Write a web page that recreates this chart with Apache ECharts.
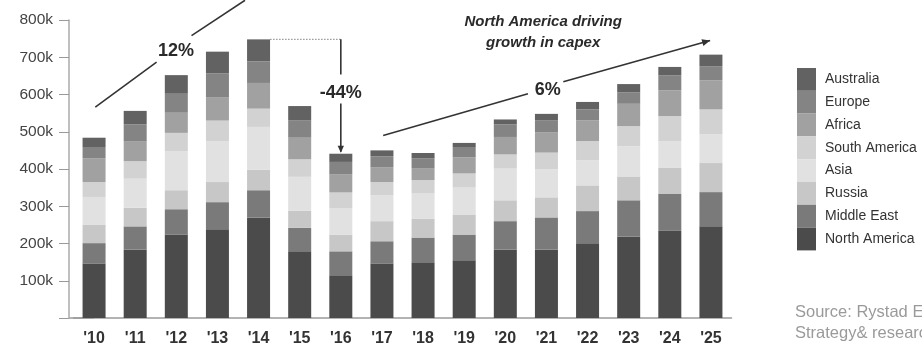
<!DOCTYPE html>
<html>
<head>
<meta charset="utf-8">
<script src="https://cdn.jsdelivr.net/npm/echarts@6/dist/echarts.min.js"></script>
<style>
  html, body { margin: 0; padding: 0; background: #fff; }
  #chart { width: 922px; height: 348px; }
</style>
</head>
<body>
<div id="chart"></div>
<script>
// Upstream capex by region, thousands of USD millions
const years = ["'10", "'11", "'12", "'13", "'14", "'15", "'16", "'17", "'18", "'19", "'20", "'21", "'22", "'23", "'24", "'25"];
const northAmerica = [146, 184, 224, 238, 270, 179, 115, 146, 150, 155, 184, 184, 201, 219, 234, 246];
const middleEast   = [55, 62, 68, 73, 73, 63, 64, 60, 66, 69, 76, 86, 86, 97, 100, 92];
const russia       = [50, 50, 51, 54, 55, 46, 45, 54, 51, 54, 56, 54, 69, 64, 70, 78];
const asia         = [74, 78, 105, 110, 115, 91, 70, 69, 67, 72, 85, 75, 67, 81, 71, 77];
const southAmerica = [40, 47, 49, 55, 49, 47, 43, 36, 36, 38, 38, 45, 52, 54, 67, 67];
const africa       = [64, 54, 54, 63, 69, 58, 48, 40, 31, 43, 47, 55, 56, 60, 69, 78];
const europe       = [30, 45, 51, 64, 58, 46, 34, 29, 28, 28, 34, 31, 29, 31, 40, 38];
const australia    = [25, 36, 50, 58, 59, 39, 22, 16, 14, 11, 13, 18, 20, 22, 23, 31];

const yTicks = [0, 100, 200, 300, 400, 500, 600, 700, 800];

// Growth annotations: [category position, value]
const cagrRise = { text: '12%', from: [0.03, 566], gapStart: [1.52, 687], label: [1.99, 716], gapEnd: [2.37, 758], to: [3.67, 853] };
const cagrRecovery = { text: '6%', from: [7.03, 490], gapStart: [10.55, 602], label: [11.03, 611], gapEnd: [11.41, 634], to: [14.98, 745] };
const dropLabel = '-44%';
const peakIndex = 4;
const troughIndex = 6;

const seriesDefs = [
  ['North America', northAmerica, '#4b4b4b'],
  ['Middle East', middleEast, '#7a7a7a'],
  ['Russia', russia, '#c7c7c7'],
  ['Asia', asia, '#e1e1e1'],
  ['South America', southAmerica, '#d2d2d2'],
  ['Africa', africa, '#a1a1a1'],
  ['Europe', europe, '#848484'],
  ['Australia', australia, '#626262']
];

const FONT = "'Liberation Sans', Arial, sans-serif";
const chart = echarts.init(document.getElementById('chart'), null, { renderer: 'canvas' });

chart.setOption({
  animation: false,
  textStyle: { fontFamily: FONT },
  grid: { left: 73.5, right: 190.5, top: 20, bottom: 30, containLabel: false },
  legend: {
    orient: 'vertical',
    left: 797,
    top: 68,
    padding: 0,
    itemGap: 0,
    itemWidth: 19,
    itemHeight: 22.8,
    icon: 'rect',
    selectedMode: false,
    data: seriesDefs.map(d => d[0]).reverse(),
    textStyle: { fontSize: 14, color: '#333', fontFamily: FONT, padding: [0, 0, 0, 4] }
  },
  xAxis: {
    type: 'category',
    data: years,
    axisLine: { lineStyle: { color: '#9a9a9a', width: 1.5 } },
    axisTick: { show: false },
    axisLabel: { fontSize: 16, fontWeight: 'bold', color: '#333', margin: 13, fontFamily: FONT }
  },
  yAxis: {
    type: 'value',
    min: yTicks[0],
    max: yTicks[yTicks.length - 1],
    interval: 100,
    offset: 4.5,
    splitLine: { show: false },
    axisLine: { show: true, lineStyle: { color: '#aaa', width: 1.5 } },
    axisTick: { show: true, length: 10, lineStyle: { color: '#999' } },
    axisLabel: {
      fontSize: 15.5, color: '#444', margin: 16, fontFamily: FONT,
      formatter: v => (v === 0 ? '' : v + 'k')
    }
  },
  series: seriesDefs.map(([name, data, color]) => ({
    name, type: 'bar', stack: 'capex', data, barWidth: 23,
    itemStyle: { color },
    emphasis: { disabled: true }
  }))
});

// Pixel position for a (possibly fractional) category position and a value
function px(pos, value) {
  const a = chart.convertToPixel({ xAxisIndex: 0, yAxisIndex: 0 }, [0, value]);
  const b = chart.convertToPixel({ xAxisIndex: 0, yAxisIndex: 0 }, [1, value]);
  return [a[0] + (b[0] - a[0]) * pos, a[1]];
}

const totals = years.map((_, i) => seriesDefs.reduce((s, d) => s + d[1][i], 0));
const lineStyle = { stroke: '#333', lineWidth: 1.6 };
const boldLabel = (text, p) => ({
  type: 'text', x: p[0], y: p[1],
  style: { text, font: 'bold 18px ' + FONT, fill: '#2a2a2a', align: 'center', verticalAlign: 'middle' }
});
const seg = (p1, p2, extra) => Object.assign({ type: 'line', shape: { x1: p1[0], y1: p1[1], x2: p2[0], y2: p2[1] }, style: lineStyle }, extra || {});

function arrowHead(tip, from, size) {
  const ang = Math.atan2(tip[1] - from[1], tip[0] - from[0]);
  const w = size * 0.45;
  const bx = tip[0] - size * Math.cos(ang), by = tip[1] - size * Math.sin(ang);
  return {
    type: 'polygon',
    shape: { points: [tip, [bx + w * Math.sin(ang), by - w * Math.cos(ang)], [bx - w * Math.sin(ang), by + w * Math.cos(ang)]] },
    style: { fill: '#333' }
  };
}

const g = [
  { type: 'text', left: 795, top: 304, style: { text: 'Source: Rystad Energy;', font: '16.5px ' + FONT, fill: '#9a9a9a' } },
  { type: 'text', left: 795, top: 325, style: { text: 'Strategy& research', font: '16.5px ' + FONT, fill: '#9a9a9a' } }
];

// Carry the category axis baseline over to the value axis
const base = px(0, 0);
const axisX = chart.getModel().getComponent('grid', 0).coordinateSystem.getRect().x - 4.5;
g.push(seg([axisX, base[1]], [base[0], base[1]], { style: { stroke: '#9a9a9a', lineWidth: 1.5 } }));

// 12% rise line
g.push(seg(px(...cagrRise.from), px(...cagrRise.gapStart)));
g.push(seg(px(...cagrRise.gapEnd), px(...cagrRise.to)));
g.push(boldLabel(cagrRise.text, px(...cagrRise.label)));

// 6% recovery arrow
const rTo = px(...cagrRecovery.to);
const rGap = px(...cagrRecovery.gapEnd);
g.push(seg(px(...cagrRecovery.from), px(...cagrRecovery.gapStart)));
g.push(seg(rGap, rTo));
g.push(arrowHead(rTo, rGap, 8));
g.push(boldLabel(cagrRecovery.text, px(...cagrRecovery.label)));

// Peak-to-trough drop
const peak = px(peakIndex + 0.28, totals[peakIndex]);
const dropX = px(troughIndex, totals[peakIndex])[0];
const trough = px(troughIndex, totals[troughIndex]);
const midY = (peak[1] + trough[1]) / 2 - 4;
g.push(seg([peak[0], peak[1]], [dropX, peak[1]], { style: { stroke: '#999', lineWidth: 1.4, lineDash: [1.5, 1.5] } }));
g.push(seg([dropX, peak[1]], [dropX, midY - 18]));
g.push(seg([dropX, midY + 11], [dropX, trough[1] - 2]));
g.push(arrowHead([dropX, trough[1] - 1], [dropX, midY], 7));
g.push(boldLabel(dropLabel, [dropX, midY]));

// Headline over the recovery period
const head = px(10.92, 0);
g.push({
  type: 'text', x: head[0], y: 11,
  style: { text: 'North America driving\ngrowth in capex', font: 'italic bold 15px ' + FONT, fill: '#2a2a2a', align: 'center', lineHeight: 21.5 }
});

chart.setOption({ graphic: g }, { replaceMerge: ['graphic'] });
</script>
</body>
</html>
